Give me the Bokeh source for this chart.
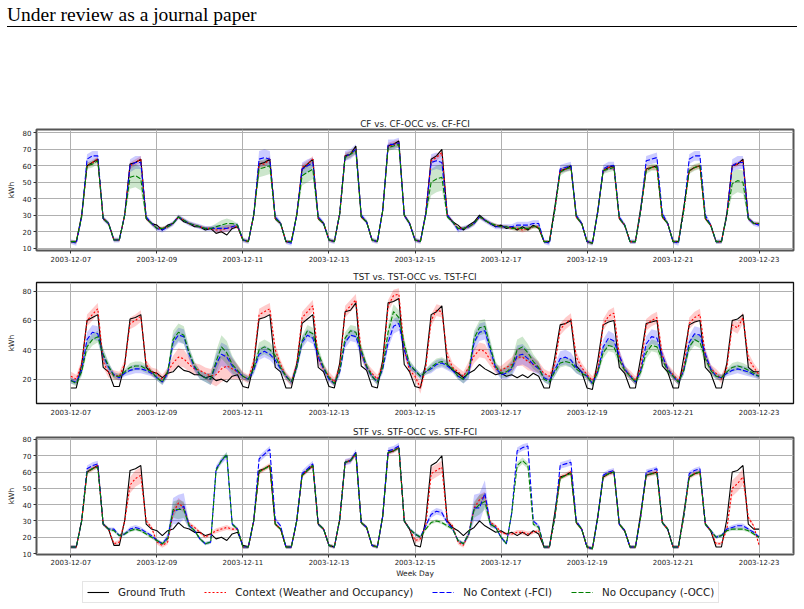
import numpy as np
import pandas as pd
from bokeh.plotting import figure
from bokeh.models import (ColumnDataSource, Legend, LegendItem, Div, DatetimeTickFormatter,
                          FixedTicker, Range1d)
from bokeh.layouts import column
from bokeh.embed import file_html
from bokeh.resources import INLINE

# ---------------- data (3-hourly, 2003-12-07 00:00 .. 2003-12-23 00:00) ----------------
START = "2003-12-07"
END = "2003-12-23"
TICK_DATES = ["2003-12-07", "2003-12-09", "2003-12-11", "2003-12-13", "2003-12-15",
              "2003-12-17", "2003-12-19", "2003-12-21", "2003-12-23"]
TITLES = ["CF vs. CF-OCC vs. CF-FCI", "TST vs. TST-OCC vs. TST-FCI", "STF vs. STF-OCC vs. STF-FCI"]
LABELS = ["Ground Truth", "Context (Weather and Occupancy)", "No Context (-FCI)", "No Occupancy (-OCC)"]

ground_truth = [
    14, 14, 30, 60, 62, 64, 28, 25,
    15, 15, 30, 61, 62, 64, 28, 25,
    24, 21, 24, 25, 29, 26, 25, 23,
    23, 21, 22, 19, 20, 18, 22, 23,
    15, 14, 30, 61, 62, 64, 28, 25,
    14, 14, 30, 58, 61, 64, 28, 25,
    15, 14, 31, 66, 67, 72, 29, 26,
    15, 14, 33, 72, 73, 75, 30, 25,
    15, 14, 31, 64, 66, 70, 30, 26,
    24, 21, 24, 26, 30, 27, 25, 23,
    24, 22, 23, 21, 23, 21, 24, 22,
    14, 14, 35, 57, 58, 60, 29, 25,
    14, 13, 33, 57, 59, 60, 28, 24,
    14, 14, 35, 58, 59, 60, 29, 25,
    14, 14, 35, 57, 59, 60, 28, 24,
    14, 14, 31, 60, 61, 64, 28, 25,
    25]

# ---- CF panel ----
cf_context = [
    14, 14, 29, 60, 62, 64, 28, 25,
    15, 15, 30, 60, 62, 64, 28, 25,
    22, 22, 23, 25, 29, 27, 25, 24,
    23, 22, 22, 21, 21, 22, 23, 23,
    15, 14, 30, 61, 61, 64, 28, 25,
    14, 14, 30, 59, 61, 64, 28, 25,
    15, 14, 31, 66, 67, 70, 29, 26,
    15, 14, 33, 72, 73, 74, 30, 25,
    15, 14, 31, 63, 65, 68, 30, 26,
    22, 22, 23, 25, 29, 27, 25, 24,
    23, 23, 22, 22, 21, 22, 23, 23,
    14, 14, 33, 57, 58, 59, 29, 25,
    14, 13, 32, 57, 59, 59, 28, 24,
    14, 14, 33, 58, 59, 59, 29, 25,
    14, 14, 33, 57, 59, 60, 28, 24,
    14, 14, 30, 60, 61, 63, 28, 25,
    25]
cf_nofci = [
    14, 13, 29, 64, 66, 66, 28, 25,
    15, 15, 30, 60, 62, 62, 29, 25,
    22, 21, 23, 25, 29, 27, 25, 24,
    23, 22, 22, 22, 22, 22, 23, 24,
    15, 14, 30, 64, 65, 64, 29, 25,
    14, 13, 30, 58, 60, 62, 29, 25,
    15, 14, 31, 66, 67, 70, 30, 26,
    15, 14, 33, 73, 73, 74, 30, 25,
    15, 14, 31, 62, 63, 62, 30, 26,
    21, 22, 23, 25, 29, 27, 25, 23,
    23, 23, 23, 24, 24, 24, 25, 25,
    14, 13, 33, 58, 59, 60, 30, 25,
    14, 13, 32, 58, 60, 60, 29, 24,
    14, 14, 33, 63, 64, 65, 31, 25,
    14, 13, 33, 64, 66, 66, 30, 24,
    14, 14, 30, 60, 62, 62, 28, 25,
    24]
cf_noocc = [
    14, 14, 29, 60, 61, 63, 28, 25,
    15, 15, 30, 53, 54, 52, 28, 25,
    22, 22, 23, 25, 29, 27, 25, 24,
    23, 22, 22, 23, 24, 25, 25, 24,
    15, 14, 30, 58, 59, 60, 28, 25,
    14, 14, 30, 54, 56, 58, 28, 25,
    15, 14, 31, 65, 67, 69, 29, 26,
    15, 14, 33, 71, 72, 73, 30, 25,
    15, 14, 30, 50, 52, 53, 29, 26,
    22, 22, 23, 25, 29, 27, 25, 24,
    23, 23, 22, 22, 22, 22, 23, 23,
    14, 14, 33, 56, 58, 59, 29, 25,
    14, 13, 32, 57, 58, 59, 28, 24,
    14, 14, 33, 57, 59, 59, 29, 25,
    14, 14, 33, 57, 59, 60, 28, 24,
    14, 14, 30, 49, 51, 50, 28, 25,
    25]
cf_context_spread = [
    1, 1, 1, 1.5, 1.5, 1.5, 1, 1,
    1, 1, 1, 2, 2, 2, 1, 1,
    1, 1, 1, 1, 1, 1, 1, 1,
    1, 1, 1, 1.5, 2, 2, 1.5, 1,
    1, 1, 1, 2, 2, 2, 1, 1,
    1, 1, 1, 2, 2, 2, 1, 1,
    1, 1, 1, 2, 2, 2, 1, 1,
    1, 1, 1, 2, 2, 2, 1, 1,
    1, 1, 1, 2, 2, 2, 1, 1,
    1, 1, 1, 1, 1, 1, 1, 1,
    1, 1, 1, 1.5, 1.5, 1.5, 1, 1,
    1, 1, 1, 1.5, 1.5, 1.5, 1, 1,
    1, 1, 1, 1.5, 1.5, 1.5, 1, 1,
    1, 1, 1, 1.5, 1.5, 1.5, 1, 1,
    1, 1, 1, 1.5, 1.5, 1.5, 1, 1,
    1, 1, 1, 1.5, 1.5, 1.5, 1, 1,
    1]
cf_nofci_spread = [
    1.5, 1.5, 1.5, 3, 3, 3, 1.5, 1.5,
    1.5, 1.5, 1.5, 4, 4, 4, 1.5, 1.5,
    1.5, 1.5, 1.5, 1.5, 1.5, 1.5, 1.5, 1.5,
    1.5, 1.5, 1.5, 2, 2, 2, 2, 1.5,
    1.5, 1.5, 1.5, 5, 5, 5, 2, 1.5,
    1.5, 1.5, 1.5, 4, 4, 3, 1.5, 1.5,
    1.5, 1.5, 1.5, 3, 3, 3, 1.5, 1.5,
    1.5, 1.5, 1.5, 3, 3, 3, 1.5, 1.5,
    1.5, 1.5, 1.5, 5, 5, 5, 1.5, 1.5,
    1.5, 1.5, 1.5, 1.5, 1.5, 1.5, 1.5, 1.5,
    1.5, 1.5, 1.5, 2, 2, 2, 2, 2,
    1.5, 1.5, 1.5, 2.5, 2.5, 2.5, 1.5, 1.5,
    1.5, 1.5, 1.5, 2.5, 2.5, 2.5, 1.5, 1.5,
    1.5, 1.5, 1.5, 3, 3, 3, 1.5, 1.5,
    1.5, 1.5, 1.5, 3, 3, 3, 1.5, 1.5,
    1.5, 1.5, 1.5, 4, 4, 4, 1.5, 1.5,
    1.5]
cf_noocc_spread = [
    1, 1, 1, 2, 2, 2, 1, 1,
    1, 1, 1, 7, 7, 7, 1, 1,
    1, 1, 1, 1, 1, 1, 1, 1,
    1, 1, 1, 2, 3, 3, 2, 1,
    1, 1, 1, 5, 5, 5, 1, 1,
    1, 1, 1, 6, 6, 6, 1, 1,
    1, 1, 1, 2, 2, 2, 1, 1,
    1, 1, 1, 2, 2, 2, 1, 1,
    1, 1, 1, 8, 8, 8, 1, 1,
    1, 1, 1, 1, 1, 1, 1, 1,
    1, 1, 1, 1.5, 1.5, 1.5, 1, 1,
    1, 1, 1, 2, 2, 2, 1, 1,
    1, 1, 1, 2, 2, 2, 1, 1,
    1, 1, 1, 2, 2, 2, 1, 1,
    1, 1, 1, 2, 2, 2, 1, 1,
    1, 1, 1, 7, 7, 7, 1, 1,
    1]

# ---- TST panel ----
tst_context = [
    22, 20, 30, 60, 64, 68, 32, 24,
    23, 22, 30, 58, 60, 63, 30, 25,
    24, 20, 25, 31, 35, 34, 30, 27,
    26, 24, 22, 23, 27, 29, 27, 25,
    22, 20, 32, 64, 66, 68, 40, 30,
    22, 18, 30, 62, 66, 70, 34, 27,
    22, 18, 28, 66, 70, 74, 38, 28,
    24, 20, 30, 70, 77, 78, 40, 26,
    22, 14, 28, 60, 67, 66, 36, 28,
    25, 22, 28, 36, 40, 39, 33, 27,
    26, 28, 30, 35, 35, 32, 30, 28,
    24, 22, 30, 54, 58, 61, 35, 28,
    23, 19, 27, 57, 63, 65, 36, 26,
    23, 19, 28, 57, 60, 62, 36, 27,
    23, 19, 28, 58, 62, 64, 36, 27,
    24, 20, 28, 57, 55, 62, 34, 28,
    23]
tst_nofci = [
    19, 18, 26, 47, 52, 51, 36, 28,
    23, 21, 24, 26, 27, 27, 26, 24,
    21, 18, 24, 45, 50, 49, 37, 28,
    23, 21, 20, 30, 37, 35, 29, 25,
    22, 20, 26, 37, 39, 37, 33, 27,
    22, 18, 28, 45, 50, 48, 35, 27,
    20, 17, 25, 45, 50, 49, 38, 28,
    22, 18, 27, 45, 56, 58, 40, 29,
    26, 22, 25, 27, 30, 31, 29, 26,
    22, 20, 24, 45, 52, 53, 40, 28,
    23, 24, 27, 36, 37, 34, 30, 27,
    21, 19, 26, 34, 35, 33, 28, 25,
    22, 17, 25, 42, 48, 46, 36, 27,
    22, 18, 26, 44, 49, 48, 36, 27,
    22, 18, 26, 45, 51, 50, 37, 27,
    22, 21, 24, 26, 27, 26, 25, 23,
    22]
tst_noocc = [
    19, 17, 25, 42, 47, 49, 37, 29,
    22, 22, 25, 28, 29, 29, 27, 25,
    21, 18, 25, 47, 52, 50, 38, 29,
    23, 21, 20, 32, 42, 38, 30, 26,
    22, 20, 27, 40, 42, 40, 36, 28,
    22, 18, 28, 46, 53, 51, 38, 28,
    21, 17, 26, 48, 53, 52, 40, 29,
    22, 18, 28, 52, 66, 62, 44, 30,
    26, 22, 25, 28, 31, 32, 30, 27,
    22, 20, 25, 48, 55, 56, 42, 29,
    24, 25, 28, 40, 42, 38, 32, 28,
    20, 18, 25, 31, 32, 31, 27, 24,
    22, 17, 25, 38, 43, 42, 33, 26,
    22, 18, 25, 38, 43, 42, 33, 26,
    22, 18, 26, 42, 47, 45, 34, 26,
    22, 21, 25, 28, 29, 28, 26, 24,
    22]
tst_context_spread = [
    3, 3, 3, 4, 4, 4, 4, 3,
    3, 3, 3, 4, 4, 4, 3, 3,
    3, 3, 3, 5, 6, 6, 5, 4,
    4, 4, 5, 8, 9, 9, 7, 5,
    3, 3, 3, 4, 4, 4, 4, 3,
    3, 3, 3, 4, 4, 4, 4, 3,
    3, 3, 3, 4, 4, 4, 4, 3,
    3, 3, 3, 4, 4, 4, 4, 3,
    3, 4, 3, 4, 4, 4, 4, 3,
    3, 3, 4, 5, 5, 5, 4, 3,
    3, 4, 5, 6, 6, 6, 5, 4,
    3, 3, 3, 4, 4, 4, 4, 3,
    3, 3, 3, 4, 4, 4, 4, 3,
    3, 3, 3, 4, 4, 4, 4, 3,
    3, 3, 3, 4, 4, 4, 4, 3,
    3, 3, 3, 4, 4, 4, 4, 3,
    3]
tst_nofci_spread = [
    2, 2, 3, 5, 5, 5, 4, 3,
    2, 2, 2, 3, 3, 3, 3, 2,
    2, 2, 3, 5, 5, 5, 4, 3,
    3, 3, 4, 7, 8, 8, 6, 4,
    2, 2, 3, 4, 4, 4, 4, 3,
    2, 2, 3, 4, 4, 4, 4, 3,
    2, 2, 3, 4, 4, 4, 4, 3,
    2, 2, 3, 4, 5, 5, 4, 3,
    2, 2, 2, 3, 3, 3, 3, 2,
    2, 3, 4, 6, 6, 6, 5, 3,
    3, 4, 5, 7, 7, 6, 5, 4,
    3, 3, 4, 5, 5, 5, 4, 3,
    2, 2, 3, 5, 5, 5, 4, 3,
    2, 2, 3, 5, 5, 5, 4, 3,
    2, 2, 3, 5, 5, 5, 4, 3,
    2, 2, 2, 3, 3, 3, 3, 2,
    2]
tst_noocc_spread = [
    2, 2, 3, 4, 4, 4, 4, 3,
    2, 2, 2, 3, 3, 3, 3, 2,
    2, 2, 3, 6, 6, 6, 4, 3,
    3, 3, 4, 7, 8, 8, 6, 4,
    2, 2, 3, 5, 5, 5, 4, 3,
    2, 2, 3, 4, 4, 4, 4, 3,
    2, 2, 3, 4, 4, 4, 4, 3,
    2, 2, 3, 5, 5, 5, 4, 3,
    2, 2, 2, 3, 3, 3, 3, 2,
    2, 3, 4, 5, 5, 5, 5, 3,
    3, 4, 5, 7, 7, 6, 5, 4,
    2, 2, 3, 3, 3, 3, 3, 2,
    2, 2, 3, 4, 4, 4, 4, 3,
    2, 2, 3, 4, 4, 4, 4, 3,
    2, 2, 3, 4, 4, 4, 4, 3,
    2, 2, 2, 3, 3, 3, 3, 2,
    2]

# ---- STF panel ----
stf_context = [
    14, 14, 30, 60, 62, 64, 28, 25,
    16, 17, 30, 52, 56, 58, 30, 26,
    17, 15, 17, 35, 41, 38, 28, 26,
    23, 20, 22, 24, 25, 26, 25, 25,
    14, 14, 30, 60, 62, 64, 28, 25,
    14, 14, 30, 58, 61, 64, 28, 25,
    15, 14, 31, 66, 67, 71, 29, 26,
    15, 14, 33, 72, 73, 75, 30, 25,
    18, 19, 27, 59, 61, 63, 30, 27,
    17, 15, 22, 38, 43, 45, 29, 27,
    23, 22, 22, 23, 23, 22, 23, 24,
    14, 14, 32, 57, 58, 60, 29, 25,
    14, 13, 32, 57, 59, 60, 28, 24,
    14, 14, 33, 58, 59, 60, 29, 25,
    14, 14, 33, 57, 59, 60, 28, 24,
    16, 16, 25, 50, 53, 57, 32, 27,
    15]
stf_nofci = [
    14, 14, 30, 62, 64, 65, 28, 25,
    25, 21, 22, 25, 26, 25, 23, 21,
    18, 16, 20, 36, 37, 39, 27, 24,
    19, 16, 17, 62, 67, 70, 28, 25,
    14, 14, 30, 68, 71, 74, 31, 27,
    14, 14, 30, 59, 62, 65, 28, 25,
    15, 14, 31, 66, 67, 72, 29, 26,
    15, 14, 33, 73, 74, 76, 30, 25,
    22, 20, 27, 34, 36, 35, 29, 25,
    18, 16, 22, 38, 38, 47, 28, 26,
    20, 16, 35, 73, 75, 76, 30, 27,
    14, 14, 32, 64, 65, 66, 30, 25,
    14, 13, 32, 58, 60, 61, 28, 24,
    14, 14, 33, 60, 61, 62, 29, 25,
    14, 14, 33, 59, 61, 62, 28, 24,
    20, 21, 25, 26, 27, 27, 25, 23,
    20]
stf_noocc = [
    14, 14, 30, 60, 62, 63, 28, 25,
    24, 21, 22, 24, 25, 24, 22, 20,
    18, 16, 19, 37, 37, 37, 27, 24,
    19, 16, 17, 61, 67, 71, 28, 25,
    14, 14, 30, 60, 62, 64, 28, 25,
    14, 14, 30, 58, 61, 64, 28, 25,
    15, 14, 31, 66, 67, 71, 29, 26,
    15, 14, 33, 72, 73, 75, 30, 25,
    22, 20, 25, 29, 30, 29, 27, 25,
    18, 16, 22, 37, 40, 42, 28, 26,
    20, 16, 35, 64, 67, 64, 28, 26,
    14, 14, 32, 56, 58, 59, 29, 25,
    14, 13, 32, 57, 59, 60, 28, 24,
    14, 14, 33, 58, 59, 59, 29, 25,
    14, 14, 33, 57, 59, 60, 28, 24,
    20, 21, 24, 25, 25, 25, 24, 22,
    20]
stf_context_spread = [
    1, 1, 1, 1.5, 1.5, 1.5, 1, 1,
    1, 1.5, 1.5, 5, 5, 5, 1.5, 1,
    1.5, 1.5, 1.5, 3, 3, 3, 1.5, 1,
    1, 1, 1, 1.5, 1.5, 1.5, 1, 1,
    1, 1, 1, 1.5, 1.5, 1.5, 1, 1,
    1, 1, 1, 1.5, 1.5, 1.5, 1, 1,
    1, 1, 1, 1.5, 1.5, 1.5, 1, 1,
    1, 1, 1, 1.5, 1.5, 1.5, 1, 1,
    1.5, 1.5, 1.5, 4, 4, 4, 1.5, 1,
    1.5, 1.5, 1.5, 3, 3, 3, 1.5, 1,
    1, 1, 1, 1.5, 1.5, 1.5, 1, 1,
    1, 1, 1, 1.5, 1.5, 1.5, 1, 1,
    1, 1, 1, 1.5, 1.5, 1.5, 1, 1,
    1, 1, 1, 1.5, 1.5, 1.5, 1, 1,
    1, 1, 1, 1.5, 1.5, 1.5, 1, 1,
    1, 1, 1.5, 5, 5, 5, 1.5, 1,
    1]
stf_nofci_spread = [
    1, 1, 1, 2, 2, 2, 1, 1,
    1, 1, 1, 1.5, 1.5, 1.5, 1, 1,
    1, 1, 2, 8, 9, 8, 2, 1,
    1, 1, 1, 2, 2, 2, 1, 1,
    1, 1, 1, 2, 2, 2, 1.5, 1,
    1, 1, 1, 2, 2, 2, 1, 1,
    1, 1, 1, 2, 2, 2, 1, 1,
    1, 1, 1, 2, 2, 2, 1, 1,
    1, 1, 1, 2, 2, 2, 1, 1,
    1, 1, 2, 8, 9, 8, 2, 1,
    1, 1, 1, 2, 2, 2, 1, 1,
    1, 1, 1, 2, 2, 2, 1, 1,
    1, 1, 1, 1.5, 1.5, 1.5, 1, 1,
    1, 1, 1, 1.5, 1.5, 1.5, 1, 1,
    1, 1, 1, 1.5, 1.5, 1.5, 1, 1,
    1, 1, 1, 1.5, 1.5, 1.5, 1, 1,
    1]
stf_noocc_spread = [
    1, 1, 1, 1, 1, 1, 1, 1,
    1, 1, 1, 1, 1, 1, 1, 1,
    1, 1, 1.5, 5, 6, 5, 1.5, 1,
    1, 1, 1, 1.5, 1.5, 1.5, 1, 1,
    1, 1, 1, 1, 1, 1, 1, 1,
    1, 1, 1, 1, 1, 1, 1, 1,
    1, 1, 1, 1, 1, 1, 1, 1,
    1, 1, 1, 1, 1, 1, 1, 1,
    1, 1, 1, 1, 1, 1, 1, 1,
    1, 1, 1.5, 5, 6, 5, 1.5, 1,
    1, 1, 1, 2, 2, 2, 1, 1,
    1, 1, 1, 1, 1, 1, 1, 1,
    1, 1, 1, 1, 1, 1, 1, 1,
    1, 1, 1, 1, 1, 1, 1, 1,
    1, 1, 1, 1, 1, 1, 1, 1,
    1, 1, 1, 1, 1, 1, 1, 1,
    1]

# ---------------- styling ----------------
FONT = "DejaVu Sans"
COLORS = ["black", "red", "blue", "green"]
DASHES = ["solid", "2 2", "5 2", "5 2"]

times = pd.date_range(START, END, freq="3h")
tick_ms = [(pd.Timestamp(d) - pd.Timestamp("1970-01-01")) // pd.Timedelta("1ms") for d in TICK_DATES]
x_range = Range1d(start=pd.Timestamp(START) - pd.Timedelta(hours=19.2),
                  end=pd.Timestamp(END) + pd.Timedelta(hours=19.2))

fmt = "%Y-%m-%d"
dt_formatter = DatetimeTickFormatter(days=fmt, months=fmt, hours=fmt, years=fmt,
                                     hourmin=fmt, minutes=fmt, minsec=fmt, seconds=fmt, milliseconds=fmt)


def make_panel(title, preds, spreads, yr, yticks, height, btop, bbottom, outline_color, outline_w,
               xlabel=None):
    p = figure(width=804, height=height, x_axis_type="datetime", x_range=x_range,
               y_range=Range1d(*yr), output_backend="svg", toolbar_location=None,
               min_border_left=36, min_border_right=11, min_border_top=btop,
               min_border_bottom=bbottom, background_fill_color="white",
               border_fill_color="white")
    p.title.text = title
    p.title.align = "center"
    p.title.text_font = FONT
    p.title.text_font_size = "8.8px"
    p.title.text_font_style = "normal"
    p.title.text_color = "#222222"
    p.title.standoff = 1
    p.title.offset = 0
    p.outline_line_color = outline_color
    p.outline_line_width = outline_w

    for ax in (p.xaxis[0], p.yaxis[0]):
        ax.axis_line_color = None
        ax.major_tick_out = 3
        ax.major_tick_in = 0
        ax.minor_tick_line_color = None
        ax.major_tick_line_color = "#333333"
        ax.major_label_text_font = FONT
        ax.major_label_text_font_size = "7px"
        ax.major_label_text_color = "#222222"
        ax.major_label_standoff = 2
        ax.axis_label_text_font = FONT
        ax.axis_label_text_font_size = "7.5px"
        ax.axis_label_text_font_style = "normal"
        ax.axis_label_text_color = "#222222"
    p.xaxis.ticker = FixedTicker(ticks=tick_ms)
    p.xaxis.formatter = dt_formatter
    p.yaxis.ticker = FixedTicker(ticks=yticks)
    p.yaxis.axis_label = "kWh"
    p.yaxis.axis_label_standoff = 4
    if xlabel:
        p.xaxis.axis_label = xlabel
        p.xaxis.axis_label_standoff = 1
        p.xaxis.major_label_standoff = 1
    p.grid.grid_line_color = "#b0b0b0"
    p.grid.grid_line_width = 1

    gt = np.array(ground_truth, dtype=float)
    # uncertainty bands
    for col, m, s in zip(COLORS[1:], preds, spreads):
        m = np.array(m, dtype=float)
        s = np.array(s, dtype=float)
        src = ColumnDataSource(dict(t=times, lo=m - s, hi=m + s))
        p.varea(x="t", y1="lo", y2="hi", source=src, fill_color=col, fill_alpha=0.2)
    p.line(times, gt, line_color="black", line_width=1.1)
    for col, dash, m in zip(COLORS[1:], DASHES[1:], preds):
        p.line(times, np.array(m, dtype=float), line_color=col, line_width=1.1, line_dash=dash)
    return p


p1 = make_panel(TITLES[0], [cf_context, cf_nofci, cf_noocc],
                [cf_context_spread, cf_nofci_spread, cf_noocc_spread],
                (8.6, 82.0), [10, 20, 30, 40, 50, 60, 70, 80], 155, 19, 15, "#555555", 2)
p2 = make_panel(TITLES[1], [tst_context, tst_nofci, tst_noocc],
                [tst_context_spread, tst_nofci_spread, tst_noocc_spread],
                (3.4, 85.9), [20, 40, 60, 80], 159, 17, 21, "#111111", 1.3)
p3 = make_panel(TITLES[2], [stf_context, stf_nofci, stf_noocc],
                [stf_context_spread, stf_nofci_spread, stf_noocc_spread],
                (9.4, 81.2), [10, 20, 30, 40, 50, 60, 70, 80], 156, 12, 23, "#555555", 2,
                xlabel="Week Day")

# ---- legend strip ----
pl = figure(width=804, height=29, output_backend="svg", toolbar_location=None,
            x_range=Range1d(0, 1), y_range=Range1d(0, 1),
            x_axis_location=None, y_axis_location=None,
            min_border_left=0, min_border_right=0, min_border_top=0, min_border_bottom=0,
            outline_line_color=None, background_fill_color="white", border_fill_color="white")
pl.grid.visible = False
leg_rends = []
for col, dash in zip(COLORS, DASHES):
    # proxy renderers placed outside the visible range, used only for legend glyphs
    leg_rends.append(pl.line(x=[5, 6], y=[5, 6], line_color=col, line_width=1.1, line_dash=dash))
legend = Legend(items=[LegendItem(label=lab, renderers=[r]) for lab, r in zip(LABELS, leg_rends)],
                orientation="horizontal", location=(46, 6),
                label_text_font=FONT, label_text_font_size="10.3px", label_text_color="#222222",
                glyph_width=22, glyph_height=10, label_standoff=9, spacing=19,
                padding=4, margin=0, border_line_color="#cccccc", border_line_width=1,
                background_fill_color="white", background_fill_alpha=1, label_height=10)
pl.add_layout(legend, "center")

header = Div(text=('<div style="font-family:\'Liberation Serif\',\'Times New Roman\',serif;'
                   'font-size:19.5px;line-height:19px;color:#000;padding-top:5px;padding-bottom:2px;'
                   'border-bottom:1px solid #000;width:790px;margin-left:7px;">'
                   'Under review as a journal paper</div>'),
             width=804, height=110, margin=0)

layout = column(header, p1, p2, p3, pl, spacing=0)
open("out.html", "w").write(file_html(layout, INLINE))
